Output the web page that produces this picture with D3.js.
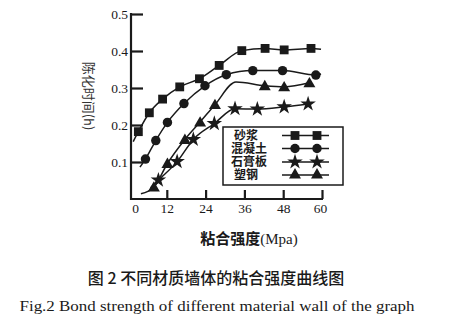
<!DOCTYPE html>
<html><head><meta charset="utf-8">
<script src="https://cdn.jsdelivr.net/npm/d3@7"></script>
<style>
html,body{margin:0;padding:0;background:#fff;}
svg{display:block;}
</style></head>
<body>
<svg id="chart" width="450" height="322"></svg>
<script>
// ---- data ----
const xTicks = [0, 12, 24, 36, 48, 60];
const yTicks = [0.1, 0.2, 0.3, 0.4, 0.5];
const seriesNames = ["砂浆", "混凝土", "石膏板", "塑钢"];
const seriesSymbols = ["square", "circle", "star", "triangle"];

// 砂浆 (squares)
const sqX = [3.2, 6.6, 10.7, 16.0, 22.1, 28.2, 35.2, 42.4, 48.3, 56.6];
const sqY = [0.182, 0.233, 0.270, 0.303, 0.325, 0.361, 0.401, 0.407, 0.403, 0.407];
const sqLineX = [1.6, ...sqX, 59.7];
const sqLineY = [0.155, ...sqY, 0.405];
// 混凝土 (circles)
const ciX = [5.4, 8.6, 12.2, 17.3, 23.8, 30.4, 38.6, 47.8, 58.1];
const ciY = [0.108, 0.158, 0.207, 0.258, 0.306, 0.336, 0.347, 0.347, 0.335];
const ciLineX = [3.7, ...ciX, 59.7];
const ciLineY = [0.086, ...ciY, 0.338];
// 石膏板 (stars)
const stX = [9.4, 15.2, 20.2, 26.7, 33.1, 40.0, 48.3, 55.7];
const stY = [0.051, 0.101, 0.161, 0.204, 0.244, 0.243, 0.249, 0.257];
const stLineX = [7.0, ...stX];
const stLineY = [0.030, ...stY];
// 塑钢 (triangles)
const trX = [8.0, 12.2, 17.6, 22.3, 26.9, 42.3, 48.3, 56.1];
const trY = [0.032, 0.096, 0.161, 0.208, 0.255, 0.306, 0.303, 0.314];
const trLineX = [4.0, 8.0, 12.2, 17.6, 22.3, 26.9, 33.4, 42.3, 48.3, 56.1];
const trLineY = [0.014, 0.032, 0.096, 0.161, 0.208, 0.255, 0.316, 0.306, 0.303, 0.314];

const series = [
  {name: seriesNames[0], sym: seriesSymbols[0], mx: sqX, my: sqY, lx: sqLineX, ly: sqLineY},
  {name: seriesNames[1], sym: seriesSymbols[1], mx: ciX, my: ciY, lx: ciLineX, ly: ciLineY},
  {name: seriesNames[2], sym: seriesSymbols[2], mx: stX, my: stY, lx: stLineX, ly: stLineY},
  {name: seriesNames[3], sym: seriesSymbols[3], mx: trX, my: trY, lx: trLineX, ly: trLineY}
];

// ---- layout ----
const svg = d3.select("#chart");
const x = d3.scaleLinear().domain([0, 60]).range([128, 322]);
const y = d3.scaleLinear().domain([0, 0.5]).range([199, 14]);
const axisX0 = 131, axisY0 = 199;
const ink = "#1a1a1a";
const serif = "'Liberation Serif','DejaVu Serif',serif";
const cjk = "'Noto Sans CJK SC','Noto Sans CJK JP',sans-serif";

const symType = {
  square: d3.symbolSquare, circle: d3.symbolCircle,
  star: d3.symbolStar, triangle: d3.symbolTriangle
};
const symSize = {square: 78, circle: 70, star: 75, triangle: 62};
function sym(t) { return d3.symbol().type(symType[t]).size(symSize[t])(); }

// lines
const line = d3.line().x(d => x(d[0])).y(d => y(d[1])).curve(d3.curveMonotoneX);
series.forEach(s => {
  const pts = s.lx.map((v, i) => [v, s.ly[i]]);
  svg.append("path").attr("d", line(pts)).attr("fill", "none")
    .attr("stroke", ink).attr("stroke-width", 1.5);
  svg.append("g").selectAll("path").data(s.mx.map((v, i) => [v, s.my[i]]))
    .join("path").attr("d", sym(s.sym))
    .attr("transform", d => `translate(${x(d[0])},${y(d[1]) + (s.sym === "triangle" ? 1 : 0)})`)
    .attr("fill", ink);
});

// y axis
const yAxis = d3.axisLeft(y).tickValues(yTicks).tickSize(-12).tickPadding(3)
  .tickFormat(d3.format(".1f"));
const gy = svg.append("g").attr("transform", `translate(${axisX0},0)`).call(yAxis);
gy.select(".domain").remove();
gy.selectAll(".tick line").attr("stroke", ink).attr("stroke-width", 2.2);
gy.selectAll(".tick text").attr("font-family", serif).attr("font-size", 13.5)
  .attr("fill", ink).attr("x", -3);
svg.append("line").attr("x1", axisX0).attr("x2", axisX0).attr("y1", axisY0 + 1).attr("y2", y(0.5) - 1)
  .attr("stroke", ink).attr("stroke-width", 2.2);

// x axis
const xAxis = d3.axisBottom(x).tickValues(xTicks).tickSize(-9).tickPadding(4);
const gx = svg.append("g").attr("transform", `translate(0,${axisY0})`).call(xAxis);
gx.select(".domain").remove();
gx.selectAll(".tick line").attr("stroke", ink).attr("stroke-width", 2.2)
  .attr("opacity", d => d === 0 ? 0 : 1);
gx.selectAll(".tick text").attr("font-family", serif).attr("font-size", 13.5)
  .attr("fill", ink).attr("dx", d => d === 0 ? 7 : (d === 60 ? -2 : 0));
svg.append("line").attr("x1", axisX0 - 1).attr("x2", x(60) + 1).attr("y1", axisY0).attr("y2", axisY0)
  .attr("stroke", ink).attr("stroke-width", 2.2);

// axis titles
const xt = svg.append("text").attr("x", 249).attr("y", 244).attr("text-anchor", "middle")
  .attr("fill", ink).attr("font-size", 15);
xt.append("tspan").attr("font-family", cjk).attr("font-weight", 700).text("粘合强度");
xt.append("tspan").attr("font-family", serif).text("(Mpa)");

svg.append("text").attr("transform", "translate(84,96) rotate(90)").attr("text-anchor", "middle")
  .attr("font-family", cjk).attr("font-size", 13).attr("fill", "#333").text("陈化时间(h)");

// legend
svg.append("rect").attr("x", 223).attr("y", 127).attr("width", 120).attr("height", 58)
  .attr("fill", "#fff").attr("stroke", ink).attr("stroke-width", 1.5);
const legY = [135.5, 148.5, 162, 175];
series.forEach((s, i) => {
  svg.append("text").attr("x", s.name.length === 3 ? 231 : 234).attr("y", legY[i] + 4.2)
    .attr("font-family", cjk).attr("font-weight", 700).attr("font-size", 12).attr("fill", ink)
    .text(s.name);
  svg.append("line").attr("x1", 282).attr("x2", 329).attr("y1", legY[i]).attr("y2", legY[i])
    .attr("stroke", ink).attr("stroke-width", 1.5);
  [295, 317].forEach(px => {
    svg.append("path").attr("d", sym(s.sym))
      .attr("transform", `translate(${px},${legY[i]})`).attr("fill", ink);
  });
});

// captions
svg.append("text").attr("x", 216).attr("y", 284).attr("text-anchor", "middle")
  .attr("font-family", cjk).attr("font-weight", 500).attr("font-size", 16).attr("fill", ink)
  .text("图 2 不同材质墙体的粘合强度曲线图");
svg.append("text").attr("x", 217).attr("y", 311).attr("text-anchor", "middle")
  .attr("font-family", serif).attr("font-size", 14.5).attr("fill", ink)
  .attr("textLength", 395).attr("lengthAdjust", "spacingAndGlyphs")
  .text("Fig.2 Bond strength of different material wall of the graph");
</script>
</body></html>
